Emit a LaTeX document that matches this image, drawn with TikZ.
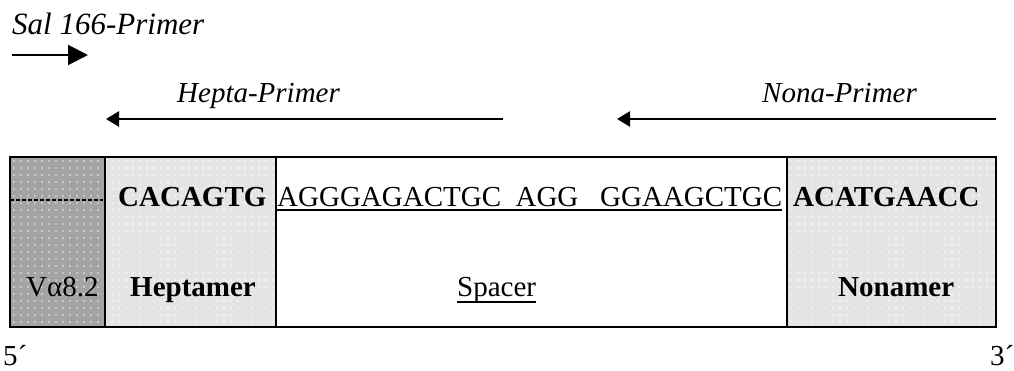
\documentclass[tikz,border=0pt]{standalone}
\usepackage{fontspec}
\setmainfont{Liberation Serif}
\usetikzlibrary{arrows.meta,patterns.meta}
\tikzdeclarepattern{
  name=wdots,
  type=uncolored,
  bounding box={(-3.5pt,-3.5pt) and (3.5pt,3.5pt)},
  tile size={(7pt,7pt)},
  code={\fill (0,0) circle (0.9pt);}
}
\definecolor{darkbox}{HTML}{A4A4A4}
\definecolor{lightbox}{HTML}{E4E4E4}
\tikzset{
  txt/.style={inner sep=0pt, anchor=base west, font=\fontsize{29}{34}\selectfont},
  btxt/.style={txt, font=\fontsize{29}{34}\selectfont\bfseries},
  itxt/.style={txt, font=\fontsize{29}{34}\selectfont\itshape},
  border/.style={draw=black, line width=2pt},
  uline/.style={line width=1.3pt},
  primer/.style={line width=2.5pt, -{Triangle[length=13pt,width=15pt]}},
}
\begin{document}
\begin{tikzpicture}[x=1pt,y=-1pt]
\useasboundingbox (0,0) rectangle (1014,371);
% segments
\fill[darkbox] (10,157) rectangle (105,327);
\fill[pattern=wdots, pattern color=white!80!darkbox] (10,157) rectangle (105,327);
\fill[lightbox] (105,157) rectangle (276,327);
\fill[pattern=wdots, pattern color=white] (105,157) rectangle (276,327);
\fill[lightbox] (787,157) rectangle (996,327);
\fill[pattern=wdots, pattern color=white] (787,157) rectangle (996,327);
\draw[border] (10,157) rectangle (996,327);
\draw[border] (105,157) -- (105,327);
\draw[border] (276,157) -- (276,327);
\draw[border] (787,157) -- (787,327);
\draw[line width=1.2pt, dash pattern=on 4pt off 2pt] (10,200) -- (103,200);
% sequences
\node[btxt] (hep) at (118,207) {CACAGTG};
\node[txt] (spa) at (277,207) {AGGGAGACTGC\ \ AGG\ \ \ GGAAGCTGC};
\draw[uline] ([yshift=-3pt]spa.base west) -- ([yshift=-3pt]spa.base east);
\node[btxt] (non) at (793,207) {ACATGAACC};
% labels
\node[txt] (va) at (26,296) {Vα8.2};
\node[btxt] (hepl) at (130,296) {Heptamer};
\node[txt] (spal) at (457,296) {Spacer};
\draw[uline] ([yshift=-6pt]spal.base west) -- ([yshift=-6pt]spal.base east);
\node[btxt] (nonl) at (838,296) {Nonamer};
% primers
\node[itxt, font=\fontsize{31}{36}\selectfont\itshape] (sal) at (12,35) {Sal 166-Primer};
\node[itxt] (hp) at (177,103) {Hepta-Primer};
\node[itxt] (np) at (762,103) {Nona-Primer};
\coordinate (s1) at (12,55);
\coordinate (s2) at (88,55);
\coordinate (h1) at (503,119);
\coordinate (h2) at (106,119);
\coordinate (n1) at (996,119);
\coordinate (n2) at (617,119);
\draw[line width=2pt, -{Triangle[length=20pt,width=20pt]}] (s1) -- (s2);
\draw[primer] (h1) -- (h2);
\draw[primer] (n1) -- (n2);
% ends
\node[txt] (five) at (3,365) {5´};
\node[txt] (three) at (990,365) {3´};
\end{tikzpicture}
\end{document}
